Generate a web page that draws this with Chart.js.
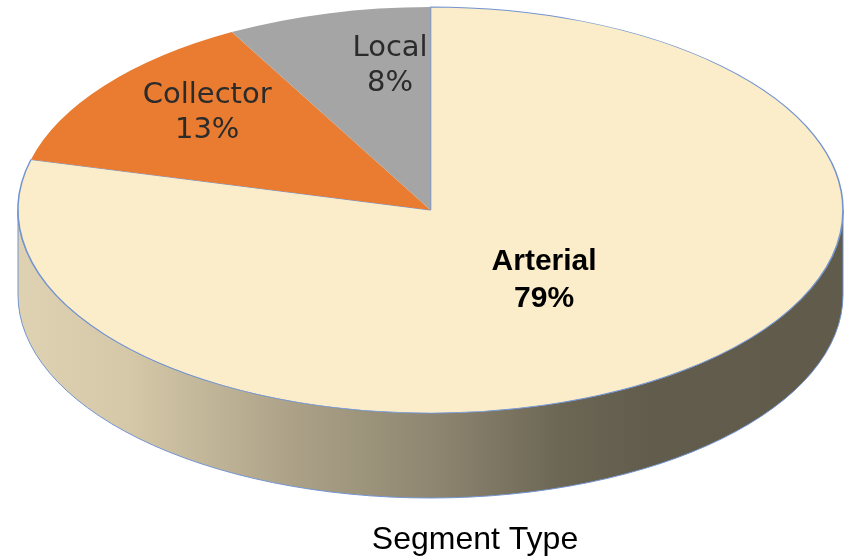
<!DOCTYPE html>
<html>
<head>
<meta charset="utf-8">
<script src="https://cdn.jsdelivr.net/npm/chart.js@4.4.0/dist/chart.umd.min.js"></script>
<style>
    html, body { margin: 0; padding: 0; background: #fff; }
    #wrap { width: 852px; height: 559px; }
</style>
</head>
<body>
<div id="wrap"><canvas id="pie"></canvas></div>
<script>
const segments = ['Arterial', 'Collector', 'Local'];
const shares = [79, 13, 8];
const sliceColors = ['#FBEDC9', '#EA7C31', '#A5A5A5'];

// where the tilted pie sits on the page
const view = {cx: 430.5, cy: 210, rx: 412.5, ry: 203, depth: 85};
// label placement: fraction of radius, angle shift (deg)
const labelPos = [{f: 0.432, da: -1.8}, {f: 0.732, da: 4.5}, {f: 0.731, da: 6.7}];

const tilt = {
    id: 'tilt',
    beforeDatasetsDraw(chart) {
        const ctx = chart.ctx;
        const arc = chart.getDatasetMeta(0).data[0];
        const {cx, cy, rx, ry, depth} = view;
        // side wall of the disc
        ctx.save();
        ctx.beginPath();
        ctx.ellipse(cx, cy, rx, ry, 0, 0, Math.PI);
        ctx.lineTo(cx - rx, cy + depth);
        ctx.ellipse(cx, cy + depth, rx, ry, 0, Math.PI, 0, true);
        ctx.closePath();
        const g = ctx.createLinearGradient(cx - rx, 0, cx + rx, 0);
        g.addColorStop(0, '#DED2B2');
        g.addColorStop(0.136, '#D5C8A8');
        g.addColorStop(0.342, '#AAA086');
        g.addColorStop(0.5, '#8F8771');
        g.addColorStop(0.657, '#6C6655');
        g.addColorStop(0.766, '#625C4C');
        g.addColorStop(1, '#615B4B');
        ctx.fillStyle = g;
        ctx.fill();
        ctx.strokeStyle = '#7394d0';
        ctx.lineWidth = 1;
        ctx.stroke();
        ctx.restore();
        // squash the round pie into the top face
        ctx.save();
        ctx.translate(cx, cy);
        ctx.scale(rx / arc.outerRadius, ry / arc.outerRadius);
        ctx.translate(-arc.x, -arc.y);
    },
    afterDatasetsDraw(chart) {
        chart.ctx.restore();
    },
    afterDraw(chart) {
        const ctx = chart.ctx;
        const {cx, cy, rx, ry} = view;
        const total = shares.reduce((a, b) => a + b, 0);
        chart.getDatasetMeta(0).data.forEach((arc, i) => {
            const mid = (arc.startAngle + arc.endAngle) / 2 + labelPos[i].da * Math.PI / 180;
            const x = cx + Math.cos(mid) * rx * labelPos[i].f;
            const y = cy + Math.sin(mid) * ry * labelPos[i].f;
            const pct = Math.round(shares[i] / total * 100) + '%';
            ctx.save();
            ctx.textAlign = 'center';
            ctx.textBaseline = 'alphabetic';
            let size, gap;
            if (i === 0) {
                size = 30; gap = 37;
                ctx.font = 'bold 30px "Liberation Sans", Arial, sans-serif';
                ctx.fillStyle = '#000';
            } else {
                size = 29; gap = 35;
                ctx.font = '29px "DejaVu Sans", sans-serif';
                ctx.fillStyle = '#2b2b2b';
            }
            const capH = size * 0.72;
            ctx.fillText(segments[i], x, y - gap / 2 + capH / 2);
            ctx.fillText(pct, x, y + gap / 2 + capH / 2);
            ctx.restore();
        });
    }
};

new Chart(document.getElementById('pie'), {
    type: 'pie',
    data: {
        labels: segments,
        datasets: [{
            data: shares,
            backgroundColor: sliceColors,
            borderColor: ['#7394d0', sliceColors[1], sliceColors[2]],
            borderWidth: [1, 0, 0],
            clip: false
        }]
    },
    options: {
        responsive: true,
        maintainAspectRatio: false,
        animation: false,
        events: [],
        layout: {
            padding: {left: 98}
        },
        plugins: {
            legend: {display: false},
            tooltip: {enabled: false},
            title: {
                display: true,
                position: 'bottom',
                text: 'Segment Type',
                color: '#000',
                font: {family: '"Liberation Sans", Arial, sans-serif', size: 32, weight: 'normal'},
                padding: {top: 0, bottom: 0}
            }
        }
    },
    plugins: [tilt]
});
</script>
</body>
</html>
